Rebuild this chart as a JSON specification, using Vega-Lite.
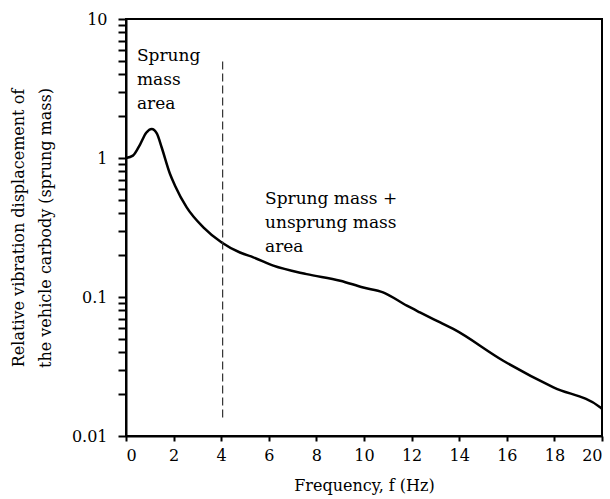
{
  "$schema": "https://vega.github.io/schema/vega-lite/v6.json",
  "width": 476,
  "height": 417,
  "autosize": {"type": "none"},
  "padding": {"left": 126, "top": 19, "right": 8, "bottom": 63},
  "background": "white",
  "config": {
    "view": {"stroke": "black", "strokeWidth": 2},
    "font": "DejaVu Serif",
    "axis": {
      "labelFont": "DejaVu Serif",
      "titleFont": "DejaVu Serif",
      "labelFontSize": 16,
      "titleFontSize": 16,
      "titleFontWeight": "normal",
      "labelColor": "black",
      "titleColor": "black",
      "domainColor": "black",
      "domainWidth": 2,
      "grid": false
    }
  },
  "datasets": {
    "curve": [
      {"f": 0, "v": 1.0},
      {"f": 0.29, "v": 1.04},
      {"f": 0.59, "v": 1.25},
      {"f": 0.85, "v": 1.52},
      {"f": 1.08, "v": 1.62},
      {"f": 1.3, "v": 1.5},
      {"f": 1.5, "v": 1.19},
      {"f": 1.85, "v": 0.767},
      {"f": 2.06, "v": 0.632},
      {"f": 2.55, "v": 0.441},
      {"f": 3.25, "v": 0.317},
      {"f": 4.02, "v": 0.247},
      {"f": 4.79, "v": 0.209},
      {"f": 5.35, "v": 0.193},
      {"f": 6.19, "v": 0.168},
      {"f": 7.59, "v": 0.146},
      {"f": 9.0, "v": 0.131},
      {"f": 9.97, "v": 0.117},
      {"f": 10.8, "v": 0.108},
      {"f": 11.8, "v": 0.0866},
      {"f": 12.35, "v": 0.0775},
      {"f": 13.2, "v": 0.0656},
      {"f": 13.75, "v": 0.0589},
      {"f": 15.85, "v": 0.0348},
      {"f": 17.96, "v": 0.0224},
      {"f": 19.92, "v": 0.0161},
      {"f": 20, "v": 0.0157}
    ],
    "divider": [{"f": 4.06, "v1": 0.0136, "v2": 5.24}],
    "notes": [
      {"f": 0.46, "v": 5.01, "label": ["Sprung", "mass", "area"]},
      {"f": 5.84, "v": 0.469, "label": ["Sprung mass +", "unsprung mass", "area"]}
    ]
  },
  "layer": [
    {
      "data": {"name": "curve"},
      "mark": {"type": "line", "color": "black", "strokeWidth": 2.5, "interpolate": "monotone"},
      "encoding": {
        "x": {
          "field": "f",
          "type": "quantitative",
          "scale": {"domain": [0, 20], "nice": false, "zero": false},
          "axis": {
            "title": "Frequency, f (Hz)",
            "values": [0, 2, 4, 6, 8, 10, 12, 14, 16, 18, 20],
            "ticks": true,
            "tickSize": 5,
            "tickWidth": 2,
            "tickColor": "black",
            "labelPadding": 6,
            "titlePadding": 14
          }
        },
        "y": {
          "field": "v",
          "type": "quantitative",
          "scale": {"type": "log", "domain": [0.01, 10], "nice": false},
          "axis": {
            "title": ["Relative vibration displacement of", "the vehicle carbody (sprung mass)"],
            "values": [0.01, 0.02, 0.03, 0.04, 0.05, 0.06, 0.07, 0.08, 0.09, 0.1, 0.2, 0.3, 0.4, 0.5, 0.6, 0.7, 0.8, 0.9, 1, 2, 3, 4, 5, 6, 7, 8, 9, 10],
            "format": "~g",
            "labelExpr": "indexof([0.01, 0.1, 1, 10], datum.value) >= 0 ? datum.label : ''",
            "ticks": true,
            "tickSize": 8,
            "tickWidth": 2,
            "tickColor": "black",
            "labelPadding": 11,
            "labelBound": false,
            "labelOverlap": false,
            "titlePadding": 18,
            "titleLineHeight": 27
          }
        }
      }
    },
    {
      "data": {"name": "divider"},
      "mark": {"type": "rule", "color": "#333333", "strokeWidth": 1.2, "strokeDash": [8, 4]},
      "encoding": {
        "x": {"field": "f", "type": "quantitative"},
        "y": {"field": "v1", "type": "quantitative"},
        "y2": {"field": "v2"}
      }
    },
    {
      "data": {"name": "notes"},
      "mark": {"type": "text", "align": "left", "baseline": "alphabetic", "font": "DejaVu Serif", "fontSize": 17, "lineHeight": 24, "color": "black"},
      "encoding": {
        "x": {"field": "f", "type": "quantitative"},
        "y": {"field": "v", "type": "quantitative"},
        "text": {"field": "label"}
      }
    }
  ]
}
